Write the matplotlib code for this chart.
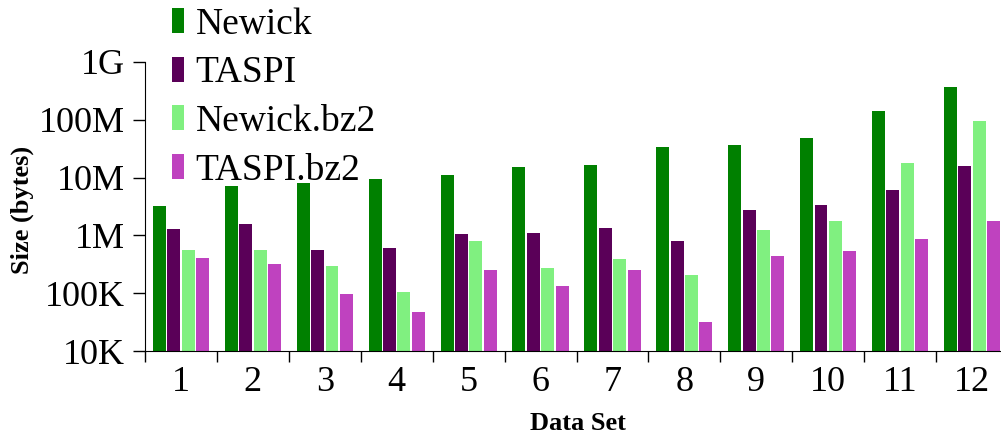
import numpy as np
import matplotlib
matplotlib.use("Agg")
import matplotlib.pyplot as plt
from matplotlib.ticker import FixedLocator, LogLocator, NullFormatter

plt.rcParams['font.family'] = ['Liberation Serif', 'DejaVu Serif']

# data sets 1..12, sizes in bytes
datasets = ["1", "2", "3", "4", "5", "6", "7", "8", "9", "10", "11", "12"]
newick = [3.2e6, 7.2e6, 8.0e6, 9.6e6, 11.3e6, 15.5e6, 16.6e6, 34e6, 37e6, 48e6, 144e6, 373e6]
taspi = [1.3e6, 1.55e6, 5.5e5, 6.0e5, 1.04e6, 1.12e6, 1.32e6, 7.9e5, 2.8e6, 3.4e6, 6.0e6, 16e6]
newick_bz2 = [5.6e5, 5.6e5, 2.9e5, 1.07e5, 8.0e5, 2.7e5, 3.9e5, 2.04e5, 1.22e6, 1.8e6, 18e6, 96e6]
taspi_bz2 = [4.0e5, 3.25e5, 9.5e4, 4.7e4, 2.5e5, 1.35e5, 2.5e5, 3.2e4, 4.4e5, 5.3e5, 8.5e5, 1.8e6]

series = [("Newick", newick, "#008000"),
          ("TASPI", taspi, "#5a0058"),
          ("Newick.bz2", newick_bz2, "#80f080"),
          ("TASPI.bz2", taspi_bz2, "#bf42bf")]

fig = plt.figure(figsize=(10.01, 4.37), dpi=100)
ax = fig.add_axes([145 / 1001, 86 / 437, 863 / 1001, 289 / 437])

x = np.arange(len(datasets))
step = 0.2
for i, (name, vals, col) in enumerate(series):
    ax.bar(x - 0.3 + i * step, vals, width=0.18, color=col, label=name, zorder=2)

ax.set_yscale('log')
ax.set_ylim(1e4, 1e9)
ax.set_xlim(-0.5, len(datasets) - 0.5)
ax.set_yticks([1e4, 1e5, 1e6, 1e7, 1e8, 1e9])
ax.set_yticklabels(["10K", "100K", "1M", "10M", "100M", "1G"])
ax.yaxis.set_minor_locator(LogLocator(base=10, subs=np.arange(2, 10)))
ax.yaxis.set_minor_formatter(NullFormatter())

ax.set_xticks(x)
ax.set_xticklabels(datasets)
ax.xaxis.set_minor_locator(FixedLocator(np.arange(len(datasets) + 1) - 0.5))

ax.tick_params(axis='y', which='major', length=8.6, width=1, labelsize=26, pad=6)
ax.tick_params(axis='y', which='minor', length=3.6, width=0.8)
ax.tick_params(axis='x', which='major', length=0, labelsize=26, pad=11)
ax.tick_params(axis='x', which='minor', length=8, width=1)

for s in ['top', 'right']:
    ax.spines[s].set_visible(False)

# axis labels placed in figure pixels
fig.text(22 / 1001, 1 - 210 / 437, "Size (bytes)", fontsize=19, fontweight='bold',
         rotation=90, ha='center', va='center')
fig.text(578 / 1001, 1 - 424 / 437, "Data Set", fontsize=19, fontweight='bold',
         ha='center', va='center')

fig.legend(loc='upper left', bbox_to_anchor=(172 / 1001, 1 - 7 / 437), frameon=False,
           fontsize=27, handlelength=0.33, handleheight=0.65, handletextpad=0.3,
           labelspacing=0.38, borderpad=0.0, borderaxespad=0.0)

fig.savefig("out.png", dpi=100)
